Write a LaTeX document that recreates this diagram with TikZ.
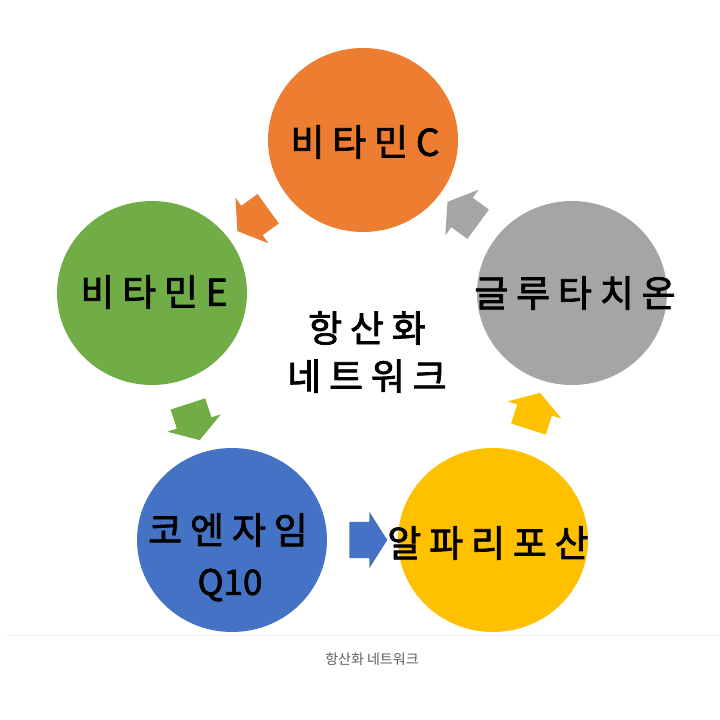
\documentclass[tikz,border=0pt]{standalone}
\usepackage{fontspec}
\usetikzlibrary{shapes.geometric,shapes.arrows,calc}
\newfontfamily\krsp[LetterSpace=21,FakeBold=2]{Noto Sans CJK KR}
\newfontfamily\krq[FakeBold=2]{Noto Sans CJK KR}
\newfontfamily\kr{Noto Sans CJK KR}
\definecolor{cOrange}{HTML}{ED7D31}
\definecolor{cGreen}{HTML}{70AD47}
\definecolor{cGray}{HTML}{A5A5A5}
\definecolor{cBlue}{HTML}{4472C4}
\definecolor{cYellow}{HTML}{FFC000}
\definecolor{cCap}{HTML}{5E5E5E}
\definecolor{cLine}{HTML}{F2F2F2}
\begin{document}
\begin{tikzpicture}[x=1pt,y=1pt,
  ball/.style={ellipse, draw=none, inner sep=0pt, minimum width=190pt, minimum height=184pt},
  lbl/.style={font=\krsp\fontsize{37}{48}\selectfont, text=black, align=center, inner sep=0pt},
  blockarrow/.style={single arrow, draw=none, inner xsep=0pt, inner ysep=18pt, minimum height=38pt,
     single arrow head extend=10pt, single arrow tip angle=115, sloped, allow upside down, midway},
  captext/.style={font=\kr\fontsize{14}{16}\selectfont, text=cCap, inner sep=0pt}]
\fill[white] (0,0) rectangle (720,720);
\useasboundingbox (0,0) rectangle (720,720);
\draw[cLine, line width=1pt] (5,84) -- (720,84);
% circles
\node[ball, fill=cOrange] (vc) at (363,580) {};
\node[ball, fill=cGreen]  (ve) at (152,427) {};
\node[ball, fill=cGray]   (gl) at (572,427) {};
\node[ball, fill=cBlue]   (cq) at (232,180) {};
\node[ball, fill=cYellow] (al) at (493,180) {};
% labels
\node[lbl] (tvc) at ($(vc)+(2,-2)$) {비타민C};
\node[lbl] (tve) at ($(ve)+(2,1)$) {비타민E};
\node[lbl] (tgl) at ($(gl)+(3,0)$) {글루타치온};
\node[lbl] (tcq) at ($(cq)+(-4,10)$) {코엔자임};
\node[lbl, font=\krq\fontsize{35}{48}\selectfont] (tq) at ($(cq)+(-2,-45)$) {Q10};
\node[lbl] (tal) at ($(al)+(-5,-3)$) {알파리포산};
\node[lbl] (center) at (367,368) {항산화\\네트워크};
% arrows
\path (vc) -- (ve) node[blockarrow, fill=cOrange] (a1) {};
\path (ve) -- (cq) node[blockarrow, fill=cGreen] (a2) {};
\path (cq) -- (al) node[blockarrow, fill=cBlue] (a3) {};
\path (al) -- (gl) node[blockarrow, fill=cYellow] (a4) {};
\path (gl) -- (vc) node[blockarrow, fill=cGray] (a5) {};
% caption
\node[captext] (caption) at (372,61) {항산화 네트워크};
\end{tikzpicture}
\end{document}
